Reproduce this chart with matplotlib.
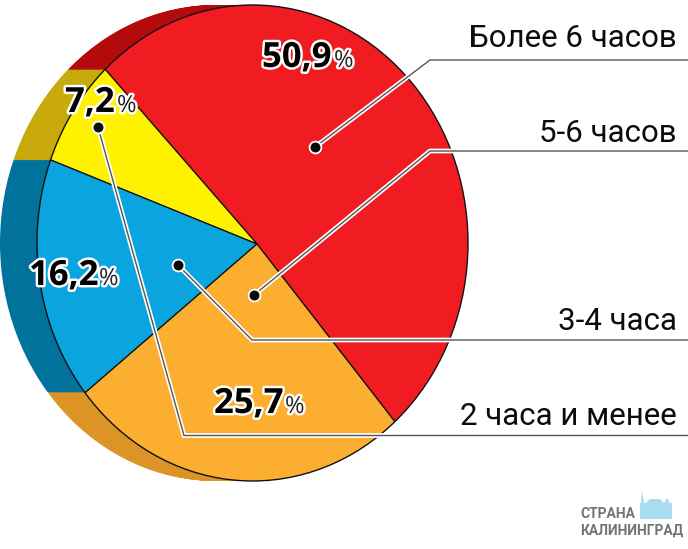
import matplotlib
matplotlib.use("Agg")
import matplotlib.pyplot as plt
import matplotlib.patheffects as pe
from matplotlib.patches import Ellipse, Polygon

# [Data]
values = [50.9, 7.2, 16.2, 25.7]
colors_top = ["#f11c22", "#fff200", "#0aa5de", "#fbae2f"]
colors_side = ["#b30a0c", "#c9aa0c", "#00729c", "#dc9426"]
value_labels = ["50,9", "7,2", "16,2", "25,7"]
categories = ["Более 6 часов", "5-6 часов", "3-4 часа", "2 часа и менее"]

# [Geometry in px]
W, H = 688, 549
cx, cy = 252.5, 243      # rim centre
a, b = 215.5, 238        # rim half axes
vx, vy = 257, 244        # where the slices meet
depth = 37
start = -49.4

fig = plt.figure(figsize=(W / 100, H / 100), dpi=100)

# pie axes: one unit is a on x and b on y, so the circle comes out as the ellipse
ax = fig.add_axes([0, 0, 1, 1])

def draw_pie(shift, colors, lw):
    rim = Ellipse(((cx - shift - vx) / a, (vy - cy) / b), 2, 2, fill=False, lw=0)
    ax.add_patch(rim)
    wedges, _ = ax.pie(values, colors=colors, startangle=start, radius=1.2,
                       center=(-shift / a, 0),
                       wedgeprops={"linewidth": lw, "edgecolor": "#111111"})
    for w in wedges:
        # pie turns clipping off on its wedges
        w.set_clip_on(True)
        w.set_clip_path(rim)

for s in range(depth, 0, -1):
    draw_pie(s, colors_side, 0)
draw_pie(0, colors_top, 0.9)
ax.add_patch(Ellipse(((cx - vx) / a, (vy - cy) / b), 2, 2, fill=False, lw=1.0, ec="#111111"))

ax.set_aspect("auto")
ax.set_xlim(-vx / a, (W - vx) / a)
ax.set_ylim((vy - H) / b, vy / b)
ax.axis("off")

# overlay axes in image pixels
ov = fig.add_axes([0, 0, 1, 1], zorder=5)
ov.set_xlim(0, W)
ov.set_ylim(H, 0)
ov.axis("off")
ov.patch.set_alpha(0)

leaders = [
    ([315, 430, 688], [147, 60, 60]),
    ([254, 430, 688], [295, 151, 151]),
    ([178, 252, 688], [265, 340, 340]),
    ([98, 184, 688], [127, 435.5, 435.5]),
]
for xs, ys in leaders:
    ov.plot(xs, ys, color="white", lw=3.4, solid_joinstyle="miter", solid_capstyle="butt")
for xs, ys in leaders:
    ov.plot(xs, ys, color="#555555", lw=1.0, solid_joinstyle="miter", solid_capstyle="butt")
    ov.plot(xs[0], ys[0], "o", ms=8.5, mfc="#0b0b0b", mec="white", mew=1.3)

label_y = [47, 142, 330, 425]
for txt, y in zip(categories, label_y):
    ov.text(677, y, txt, ha="right", va="baseline", fontsize=22.5, family="Roboto", color="#0c0c0c")

# percent labels
stroke = [pe.withStroke(linewidth=3.5, foreground="white")]
pct_pos = [(262, 67, 334), (65, 112, 117), (29, 285, 99), (214, 413, 285)]
for txt, (x, y, xp) in zip(value_labels, pct_pos):
    ov.text(x, y, txt, fontsize=25, fontweight="bold", family="Open Sans", color="black",
            va="baseline", path_effects=stroke)
    ov.text(xp, y, "%", fontsize=17, family="Open Sans", color="#222222",
            va="baseline", path_effects=stroke)

# logo
ov.text(580, 518, "СТРАНА", fontsize=10, fontweight="bold", family="Roboto", color="#6f7478", va="baseline")
ov.text(580, 535, "КАЛИНИНГРАД", fontsize=10, fontweight="bold", family="Roboto", color="#6f7478", va="baseline")
castle = [(640, 519), (640, 503), (641, 503), (642, 490), (644, 503), (646, 503), (650, 499), (660, 499),
          (664, 503), (667, 498), (670, 503), (672, 503), (672, 519)]
ov.add_patch(Polygon(castle, closed=True, fc="#a9dcf0", ec="none"))

fig.savefig("out.png", dpi=100)
